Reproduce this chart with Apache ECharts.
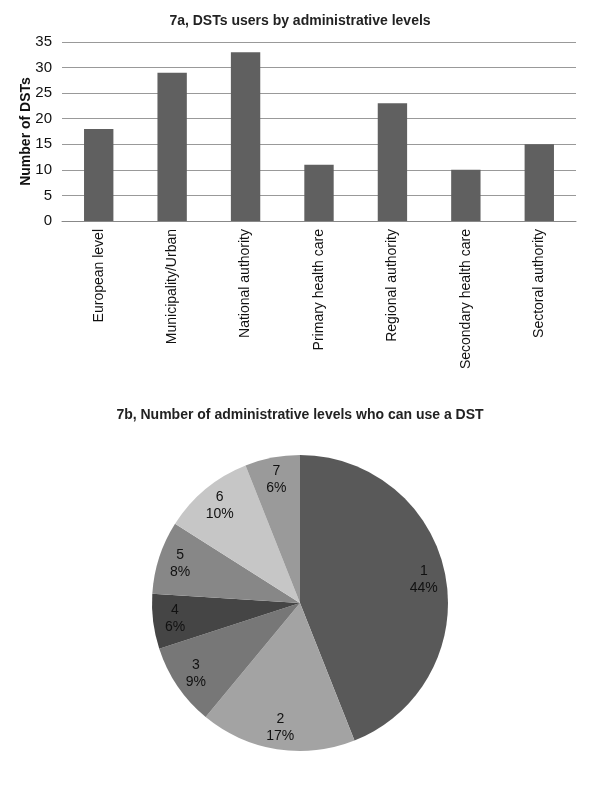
<!DOCTYPE html>
<html>
<head>
  <meta charset="utf-8">
  <title>7a / 7b DSTs</title>
  <script src="https://cdn.jsdelivr.net/npm/echarts/dist/echarts.min.js"></script>
  <style>
    html, body { margin: 0; padding: 0; background: #fff; }
    #main { width: 600px; height: 804px; }
  </style>
</head>
<body>
<div id="main"></div>
<script>
  // 7a: bar chart
  const levels = [
    'European level',
    'Municipality/Urban',
    'National authority',
    'Primary health care',
    'Regional authority',
    'Secondary health care',
    'Sectoral authority'
  ];
  const dstCounts = [18, 29, 33, 11, 23, 10, 15];

  // 7b: pie chart
  const levelCounts = ['1', '2', '3', '4', '5', '6', '7'];
  const levelShares = [44, 17, 9, 6, 8, 10, 6];
  const sliceColors = ['#595959', '#a3a3a3', '#777777', '#454545', '#878787', '#c6c6c6', '#9a9a9a'];

  const font = "'Liberation Sans', Arial, sans-serif";

  const pieData = levelCounts.map(function (name, i) {
    return { name: name, value: levelShares[i], itemStyle: { color: sliceColors[i] } };
  });

  var myChart = echarts.init(document.getElementById('main'));

  var option = {
    animation: false,
    textStyle: { fontFamily: font },
    title: [
      {
        text: '7a, DSTs users by administrative levels',
        left: 'center',
        top: 9,
        textStyle: { fontFamily: font, fontSize: 14, fontWeight: 'bold', color: '#222' }
      },
      {
        text: '7b, Number of administrative levels who can use a DST',
        left: 'center',
        top: 403,
        textStyle: { fontFamily: font, fontSize: 14, fontWeight: 'bold', color: '#222' }
      }
    ],
    grid: {
      left: 62,
      right: 24,
      top: 42,
      bottom: 583
    },
    xAxis: {
      type: 'category',
      data: levels,
      axisLine: { lineStyle: { color: '#888', width: 1 } },
      axisTick: { show: false },
      axisLabel: {
        rotate: 90,
        margin: 8,
        interval: 0,
        fontFamily: font,
        fontSize: 14,
        color: '#111'
      }
    },
    yAxis: {
      type: 'value',
      min: 0,
      max: 35,
      interval: 5,
      name: 'Number of DSTs',
      nameLocation: 'middle',
      nameGap: 29,
      nameMoveOverlap: false,
      nameTextStyle: { fontFamily: font, fontSize: 14, fontWeight: 'bold', color: '#111' },
      axisLine: { show: false },
      axisTick: { show: false },
      axisLabel: { fontFamily: font, fontSize: 15, color: '#111', margin: 10 },
      splitLine: { lineStyle: { color: '#999', width: 1 } }
    },
    series: [
      {
        type: 'bar',
        data: dstCounts,
        barWidth: '40%',
        itemStyle: { color: '#606060' }
      },
      {
        type: 'pie',
        center: [300, 603],
        radius: [0, 148],
        startAngle: 90,
        clockwise: true,
        silent: true,
        label: { show: false },
        labelLine: { show: false },
        data: pieData
      },
      {
        // transparent copy only used to place the labels near the rim
        type: 'pie',
        center: [300, 603],
        radius: [0, 246],
        startAngle: 90,
        clockwise: true,
        silent: true,
        itemStyle: { color: 'rgba(0,0,0,0)' },
        label: {
          show: true,
          position: 'inside',
          formatter: function (p) { return p.name + '\n' + p.value + '%'; },
          fontFamily: font,
          fontSize: 14,
          lineHeight: 17,
          color: '#111'
        },
        labelLine: { show: false },
        data: levelCounts.map(function (name, i) {
          return { name: name, value: levelShares[i] };
        })
      }
    ]
  };

  myChart.setOption(option);
</script>
</body>
</html>
